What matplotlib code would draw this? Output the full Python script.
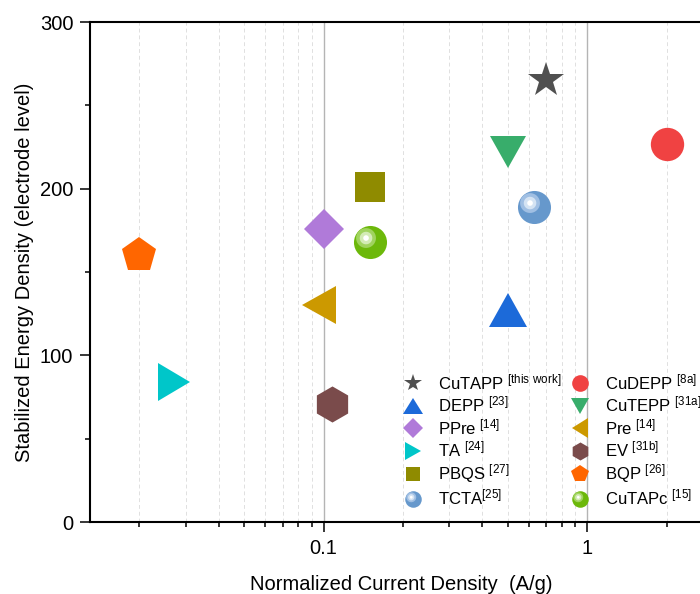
import numpy as np
import matplotlib
matplotlib.use('Agg')
from matplotlib import pyplot as plt
from matplotlib.markers import MarkerStyle
from matplotlib.path import Path
from matplotlib.transforms import Affine2D
from matplotlib.legend_handler import HandlerTuple
from matplotlib.ticker import MultipleLocator, NullFormatter, LogLocator

plt.rcParams['font.family'] = ['Liberation Sans', 'DejaVu Sans']
plt.rcParams['mathtext.fontset'] = 'custom'
plt.rcParams['mathtext.rm'] = 'Liberation Sans'
plt.rcParams['mathtext.default'] = 'regular'

# data
names = ['CuTAPP', 'DEPP', 'PPre', 'TA', 'PBQS', 'TCTA',
         'CuDEPP', 'CuTEPP', 'Pre', 'EV', 'BQP', 'CuTAPc']
refs = ['this work', '23', '14', '24', '27', '25',
        '8a', '31a', '14', '31b', '26', '15']
current = [0.70, 0.50, 0.10, 0.027, 0.15, 0.63,
           2.0, 0.50, 0.096, 0.108, 0.020, 0.15]
energy = [265, 127, 176, 84, 201, 189,
          227, 222, 130, 71, 160, 168]

xticks = [0.1, 1]
xticklabels = ['0.1', '1']
yticks = [0, 100, 200, 300]

# styles
wide = Affine2D().scale(1.15, 1.0)
tall = Affine2D().scale(1.0, 1.15)
styles = {
    'CuTAPP': dict(marker='*', ms=26.5, color='#505050'),
    'DEPP': dict(marker=MarkerStyle('^', transform=wide), ms=24, color='#1c6ad9'),
    'PPre': dict(marker='D', ms=20.5, color='#b07ad9'),
    'TA': dict(marker=MarkerStyle('>', transform=tall), ms=23.5, color='#00c6c9'),
    'PBQS': dict(marker='s', ms=21, color='#8f8b00'),
    'TCTA': dict(marker='sphere', ms=23.8, color=['#6698cc', '#a0bfe3', '#d4e3f3', '#ffffff']),
    'CuDEPP': dict(marker='o', ms=24, color='#f04242'),
    'CuTEPP': dict(marker=MarkerStyle('v', transform=wide), ms=23, color='#38ad6b'),
    'Pre': dict(marker=MarkerStyle('<', transform=tall), ms=23.8, color='#cc9900'),
    'EV': dict(marker='h', ms=26, color='#7a4b4b'),
    'BQP': dict(marker='p', ms=26.3, color='#ff6600'),
    'CuTAPc': dict(marker='sphere', ms=23.8, color=['#6cb80a', '#a0d35e', '#d3ebb5', '#ffffff']),
}


def ring_path(d, r):
    t = np.linspace(0, 2 * np.pi, 61)
    return Path(np.column_stack([-d + r * np.cos(t), d + r * np.sin(t)]), closed=True)


rings = [(0.27, 0.6), (0.27, 0.38), (0.27, 0.17)]

fig = plt.figure(figsize=(7.0, 5.94), dpi=100)
ax = fig.add_axes([90 / 700, 72 / 594, (713 - 90) / 700, 500 / 594])
ax.set_xscale('log')
ax.set_xlim(0.013, 3)
ax.set_ylim(0, 300)

handles = []
for name, ref, x, y in zip(names, refs, current, energy):
    st = styles[name]
    sep = '' if name == 'TCTA' else ' '
    label = name + sep + '$^{[' + ref.replace(' ', r'\ ') + ']}$'
    if st['marker'] == 'sphere':
        cols = st['color']
        M = st['ms']
        parts = ax.plot([x], [y], ls='none', marker='o', ms=M, color=cols[0], mew=0, zorder=3)
        for (d, r), c in zip(rings, cols[1:]):
            parts += ax.plot([x], [y], ls='none', marker=ring_path(d, r), ms=M * (d + r),
                             color=c, mew=0, zorder=3)
        handles.append((tuple(parts), label))
    else:
        ln, = ax.plot([x], [y], ls='none', marker=st['marker'], ms=st['ms'],
                      color=st['color'], mew=0, zorder=3)
        handles.append((ln, label))

ax.set_xticks(xticks, xticklabels)
ax.xaxis.set_minor_locator(LogLocator(base=10, subs=np.arange(2, 10)))
ax.xaxis.set_minor_formatter(NullFormatter())
ax.set_yticks(yticks)
ax.yaxis.set_minor_locator(MultipleLocator(50))

ax.set_axisbelow(True)
ax.grid(which='major', axis='x', color='#b4b4b4', lw=1.0, ls='-')
ax.grid(which='minor', axis='x', color='#e0e0e0', lw=0.7, ls=(0, (4, 3)))
ax.grid(which='major', axis='y', visible=False)

for sp in ax.spines.values():
    sp.set_linewidth(1.5)
ax.tick_params(which='major', direction='out', length=7, width=1.1, labelsize=14.5, pad=5)
ax.tick_params(which='minor', direction='out', length=3.5, width=1.1)

ax.set_xlabel('Normalized Current Density  (A/g)', fontsize=14.5, labelpad=12.5)
ax.set_ylabel('Stabilized Energy Density (electrode level)', fontsize=14.5, labelpad=4)

leg = ax.legend([h for h, l in handles], [l for h, l in handles],
                ncol=2, loc='upper left', bbox_to_anchor=(0.505, 0.30),
                frameon=False, fontsize=12, markerscale=0.5, numpoints=1,
                handlelength=1.0, handletextpad=1.0, columnspacing=0.6,
                labelspacing=0.16, borderpad=0, borderaxespad=0,
                handler_map={tuple: HandlerTuple(ndivide=1, pad=0)})

fig.savefig('out.png', dpi=100)
